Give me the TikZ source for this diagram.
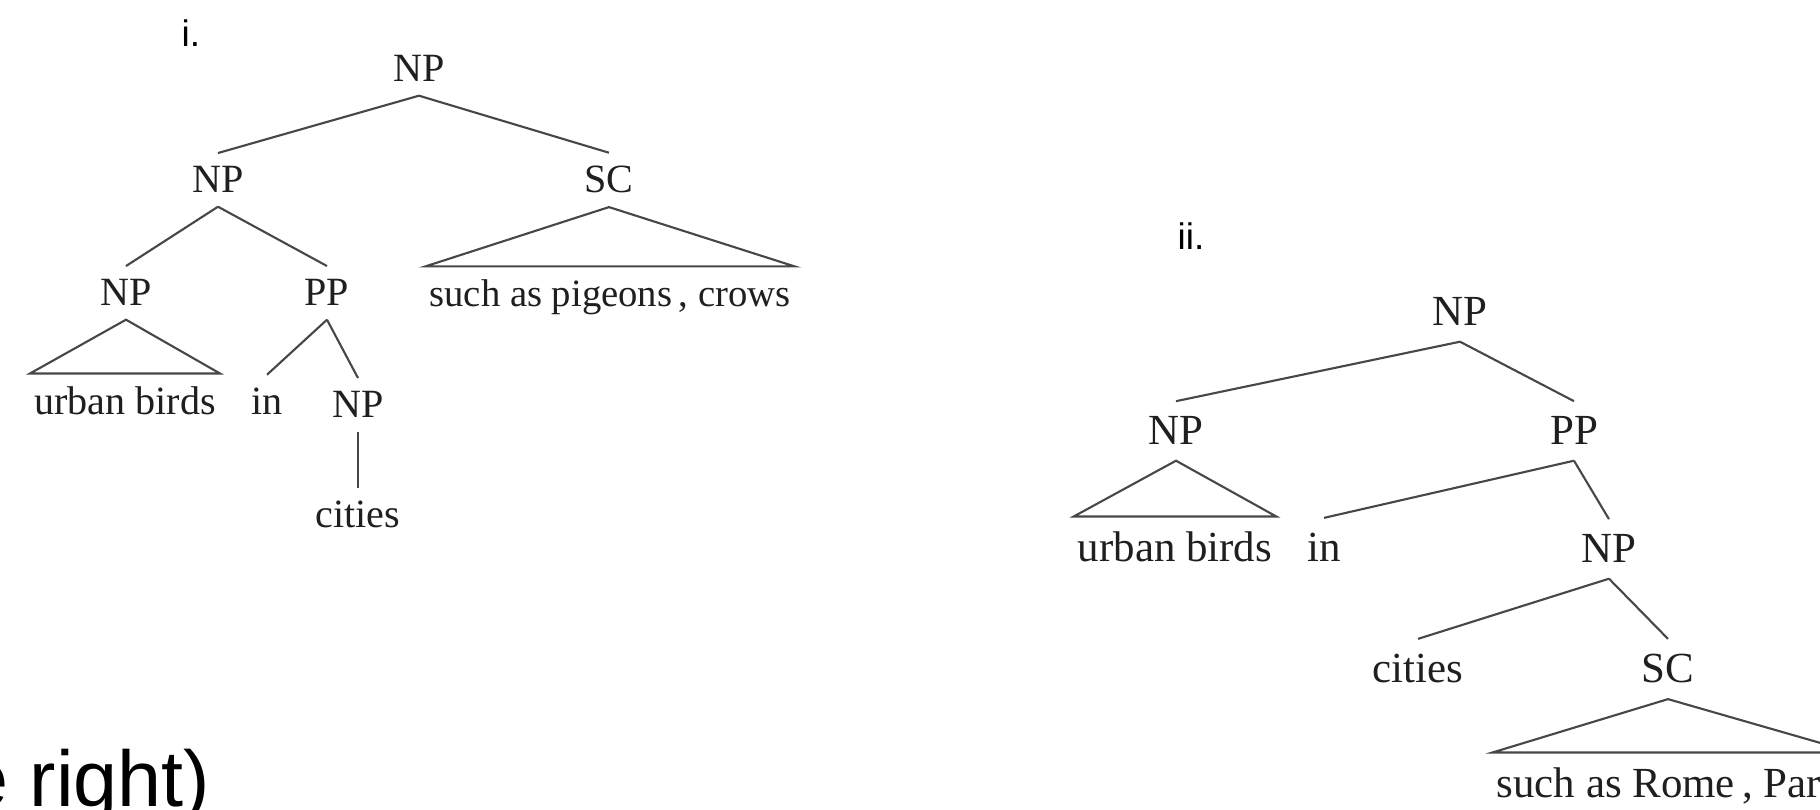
\documentclass[tikz,border=0pt]{standalone}
\usepackage{fontspec}
\setmainfont{Liberation Serif}
\newfontfamily\labelsans{Liberation Sans}

\tikzset{
  every node/.style={inner xsep=1pt, text=black!88},
  cat/.style={anchor=base, inner ysep=0.13cm},
  treeA/.style={font=\fontsize{11.4pt}{13pt}\selectfont},
  treeB/.style={font=\fontsize{12.2pt}{14pt}\selectfont, inner ysep=0.15cm},
  branch/.style={draw=black!72, line width=0.6pt},
  tag/.style={anchor=base west, inner sep=0pt, text=black,
              font=\labelsans\fontsize{10.5pt}{12pt}\selectfont},
}

\begin{document}
\begin{tikzpicture}[x=0.01cm, y=-0.01cm]
  \useasboundingbox (0,0) rectangle (1820,810);
  \fill[white] (0,0) rectangle (1820,810);
  \clip (0,0) rectangle (1820,810);

  % ---------- tree i ----------
  \node[tag] (ti) at (181,47) {i.};
  \begin{scope}[every node/.append style={cat, treeA}]
    \node (a-np)   at (419,82)  {NP};
    \node (a-np2)  at (218,193) {NP};
    \node (a-sc)   at (609,193) {SC};
    \node (a-np3)  at (126,306) {NP};
    \node (a-pp)   at (327,306) {PP};
    \node[font=\fontsize{11pt}{13pt}\selectfont]
          (a-such) at (610,307) {such as pigeons\,, crows};
    \node (a-ub)   at (125,415) {urban birds};
    \node (a-in)   at (267,415) {in};
    \node (a-np4)  at (358,418) {NP};
    \node (a-cit)  at (358,528) {cities};
  \end{scope}
  \draw[branch] (a-np.south) -- (a-np2.north);
  \draw[branch] (a-np.south) -- (a-sc.north);
  \draw[branch] (a-np2.south) -- (a-np3.north);
  \draw[branch] (a-np2.south) -- (a-pp.north);
  \draw[branch] (a-sc.south) -- (a-such.north east) -- (a-such.north west) -- cycle;
  \draw[branch] (a-np3.south) -- (a-ub.north east) -- (a-ub.north west) -- cycle;
  \draw[branch] (a-pp.south) -- (a-in.north);
  \draw[branch] (a-pp.south) -- (a-np4.north);
  \draw[branch] (a-np4.south) -- (a-cit.north);

  % ---------- tree ii ----------
  \node[tag] (tii) at (1177,250) {ii.};
  \begin{scope}[every node/.append style={cat, treeB}]
    \node (b-np)   at (1460,326) {NP};
    \node (b-np2)  at (1176,445) {NP};
    \node (b-pp)   at (1574,445) {PP};
    \node (b-ub)   at (1175,562) {urban birds};
    \node (b-in)   at (1324,562) {in};
    \node (b-np3)  at (1609,563) {NP};
    \node (b-cit)  at (1418,683) {cities};
    \node (b-sc)   at (1668,683) {SC};
    \node (b-such) at (1673,798) {such as Rome\,, Paris};
  \end{scope}
  \draw[branch] (b-np.south) -- (b-np2.north);
  \draw[branch] (b-np.south) -- (b-pp.north);
  \draw[branch] (b-np2.south) -- (b-ub.north east) -- (b-ub.north west) -- cycle;
  \draw[branch] (b-pp.south) -- (b-in.north);
  \draw[branch] (b-pp.south) -- (b-np3.north);
  \draw[branch] (b-np3.south) -- (b-cit.north);
  \draw[branch] (b-np3.south) -- (b-sc.north);
  \draw[branch] (b-sc.south) -- (b-such.north east) -- (b-such.north west) -- cycle;

  % ---------- caption tail ----------
  \node[anchor=base east, inner sep=0pt, text=black,
        font=\labelsans\fontsize{22.5pt}{26pt}\selectfont] (tail) at (211,807) {e right)};
\end{tikzpicture}
\end{document}
